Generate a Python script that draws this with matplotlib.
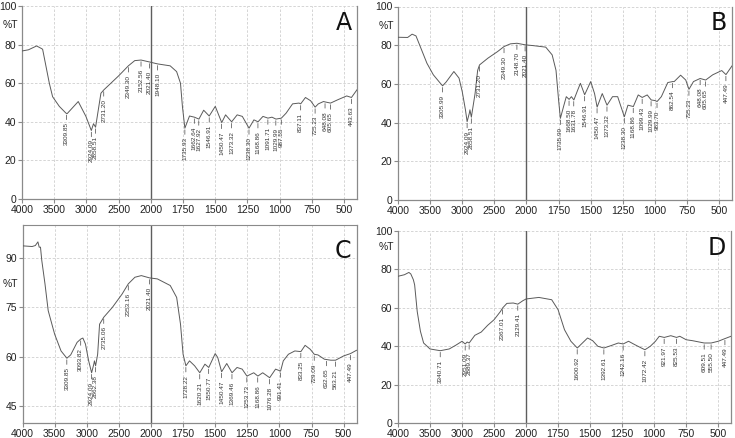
import numpy as np
import matplotlib
matplotlib.use("Agg")
import matplotlib.pyplot as plt

plt.rcParams['font.family'] = ['Liberation Sans', 'DejaVu Sans']

# ---------------- data ----------------
wn_A = [4000, 3900, 3773, 3700, 3680, 3576, 3525, 3421, 3318, 3300, 3127, 3008, 2924, 2890, 2858,
        2775, 2731, 2500, 2349, 2250, 2152, 2021, 1948, 1850, 1800, 1770, 1755, 1736, 1700, 1662,
        1627, 1590, 1547, 1500, 1450, 1420, 1373, 1330, 1290, 1238, 1200, 1168, 1130, 1091, 1060,
        1029, 987, 950, 900, 850, 837, 800, 760, 725, 700, 660, 648, 605, 550, 480, 443, 400]
t_A = [76.7, 77.3, 79.3, 78.0, 77.6, 60.0, 53.0, 48.0, 44.5, 44.2, 50.5, 42.8, 35.5, 39.0, 37.2,
       54.8, 56.5, 63.8, 69.0, 71.7, 72.0, 71.0, 70.0, 69.0, 66.0, 60.0, 48.0, 36.7, 43.0, 42.4,
       41.4, 46.0, 43.0, 48.0, 39.6, 43.6, 40.0, 43.6, 42.8, 36.7, 41.0, 40.0, 42.8, 41.9, 42.4,
       41.4, 41.9, 44.5, 49.3, 49.7, 49.3, 52.6, 50.9, 47.6, 49.3, 50.5, 50.3, 49.7, 51.4, 53.4, 52.6, 56.6]
lab_A = [3309.85, 2924.09, 2858.51, 2731.20, 2349.30, 2152.56, 2021.40, 1948.10, 1735.93, 1662.64,
         1627.92, 1546.91, 1450.47, 1373.32, 1238.30, 1168.86, 1091.71, 1029.99, 987.55, 837.11,
         725.23, 648.08, 605.65, 443.63]

wn_B = [4000, 3850, 3780, 3720, 3650, 3550, 3450, 3350, 3306, 3250, 3130, 3050, 3000, 2950, 2924,
        2890, 2880, 2858, 2800, 2760, 2731, 2600, 2450, 2349, 2250, 2148, 2021, 1950, 1850, 1800,
        1770, 1750, 1736, 1710, 1690, 1668, 1650, 1631, 1600, 1580, 1547, 1500, 1470, 1450, 1410,
        1373, 1330, 1290, 1238, 1210, 1168, 1130, 1099, 1060, 1029, 1000, 983, 950, 900, 862, 850,
        800, 760, 735, 700, 648, 605, 550, 480, 447, 400]
t_B = [84.1, 84.0, 85.7, 84.8, 79.0, 70.7, 64.7, 60.7, 59.0, 61.0, 66.4, 63.0, 56.0, 46.6, 40.5,
       44.8, 46.6, 42.8, 55.0, 67.0, 69.8, 73.3, 76.7, 79.3, 80.7, 81.0, 80.2, 79.8, 79.0, 75.0,
       67.0, 51.7, 42.2, 48.6, 53.4, 52.0, 53.4, 51.7, 57.0, 60.3, 54.4, 61.2, 55.0, 48.0, 55.0,
       49.0, 53.4, 53.4, 43.0, 49.0, 48.3, 54.3, 53.0, 54.3, 51.7, 51.4, 50.9, 53.4, 60.7, 61.2, 61.2,
       64.5, 62.0, 57.2, 61.2, 62.8, 62.0, 64.7, 66.9, 64.8, 69.3]
lab_B = [3305.99, 2924.09, 2858.51, 2731.20, 2349.30, 2148.70, 2021.40, 1735.99, 1668.50, 1631.78,
         1546.91, 1450.47, 1373.32, 1238.30, 1168.86, 1099.43, 1029.99, 983.70, 862.54, 735.23,
         648.08, 605.65, 447.49]

wn_C = [4000, 3850, 3800, 3760, 3740, 3720, 3700, 3650, 3600, 3500, 3400, 3309, 3250, 3150, 3093,
        3060, 3020, 2970, 2924, 2890, 2880, 2862, 2830, 2800, 2735, 2600, 2450, 2353, 2250, 2150,
        2021, 1950, 1850, 1800, 1770, 1750, 1728, 1700, 1660, 1620, 1580, 1550, 1500, 1480, 1450,
        1410, 1369, 1330, 1290, 1253, 1200, 1168, 1130, 1076, 1030, 991, 970, 930, 880, 833, 800,
        760, 729, 700, 650, 600, 563, 500, 447, 400]
t_C = [93.6, 93.4, 93.7, 94.8, 93.2, 93.2, 89.2, 82.1, 74.0, 66.9, 61.8, 59.6, 60.6, 64.4, 65.4,
       65.7, 63.9, 58.8, 55.2, 57.8, 58.8, 57.3, 60.8, 69.9, 72.0, 75.0, 79.0, 82.1, 84.1, 84.6,
       83.9, 83.6, 81.6, 78.0, 69.9, 60.8, 57.3, 58.8, 57.3, 55.2, 57.8, 56.8, 61.0, 59.8, 55.5,
       58.0, 55.2, 56.8, 56.3, 54.2, 55.2, 54.2, 55.2, 53.7, 56.3, 55.7, 58.8, 60.8, 61.8, 61.6, 63.5,
       62.3, 60.8, 60.6, 59.3, 59.0, 59.0, 60.3, 61.0, 62.0]
lab_C = [3309.85, 3093.82, 2924.09, 2862.38, 2735.06, 2353.16, 2021.40, 1728.22, 1620.21, 1550.77,
         1450.47, 1369.46, 1253.73, 1168.86, 1076.28, 991.41, 833.25, 729.09, 632.65, 563.21, 447.49]

wn_D = [4000, 3900, 3830, 3800, 3760, 3740, 3700, 3650, 3600, 3500, 3340, 3200, 3100, 3000, 2951,
        2920, 2889, 2800, 2700, 2600, 2500, 2400, 2367, 2300, 2200, 2129, 2050, 2000, 1900, 1800,
        1750, 1700, 1650, 1600, 1560, 1520, 1480, 1440, 1392, 1330, 1280, 1242, 1200, 1150, 1100,
        1072, 1030, 990, 960, 921, 870, 825, 800, 750, 700, 609, 555, 500, 447, 400]
t_D = [76.3, 77.1, 78.3, 77.5, 74.5, 71.8, 58.0, 47.7, 41.6, 38.5, 37.6, 38.5, 40.4, 42.5, 41.1,
       42.1, 41.6, 45.6, 47.3, 50.8, 53.7, 58.0, 59.8, 62.2, 62.4, 61.8, 63.6, 64.5, 65.3, 64.1,
       58.9, 48.5, 42.5, 39.0, 41.6, 44.2, 42.8, 39.9, 39.0, 40.4, 41.6, 41.1, 42.5, 40.7, 39.0,
       38.1, 39.9, 42.5, 45.1, 44.5, 45.4, 44.5, 45.1, 43.3, 42.8, 41.6, 41.6, 42.5, 43.9, 45.1]
lab_D = [3340.71, 2951.09, 2889.37, 2367.01, 2129.41, 1600.92, 1392.61, 1242.16, 1072.42, 921.97,
         825.53, 609.51, 555.50, 447.49]

xticks = [4000, 3500, 3000, 2500, 2000, 1750, 1500, 1250, 1000, 750, 500]

panels = [
    dict(name='A', wn=wn_A, t=t_A, lab=lab_A, rect=[22/735, 1-199/438, 335/735, 193/438],
         ylim=(0, 100), yticks=[0, 20, 40, 60, 80, 100], top=False, ty=0.9, ly=0.975),
    dict(name='B', wn=wn_B, t=t_B, lab=lab_B, rect=[398/735, 1-200/438, 334/735, 193.5/438],
         ylim=(0, 100), yticks=[0, 20, 40, 60, 80, 100], top=False, ty=0.9, ly=0.975),
    dict(name='C', wn=wn_C, t=t_C, lab=lab_C, rect=[22.5/735, 15/438, 334/735, 198.3/438],
         ylim=(40, 100), yticks=[45, 60, 75, 90], top=True, ty=0.70, ly=0.93),
    dict(name='D', wn=wn_D, t=t_D, lab=lab_D, rect=[398/735, 15/438, 333/735, 192.3/438],
         ylim=(0, 100), yticks=[0, 20, 40, 60, 80, 100], top=False, ty=0.915, ly=0.975),
]


def fwd(w):
    w = np.asarray(w, dtype=float)
    return np.where(w > 2000, 2000 + (w - 2000) / 2.0, w)


def inv(p):
    p = np.asarray(p, dtype=float)
    return np.where(p > 2000, 2000 + (p - 2000) * 2.0, p)


fig = plt.figure(figsize=(7.35, 4.38), dpi=100)
spine_c = '#8a8a8a'
line_c = '#5a5a5a'

for P in panels:
    ax = fig.add_axes(P['rect'])
    ax.set_xscale('function', functions=(fwd, inv))
    ax.set_xlim(4000, 400)
    ax.set_ylim(*P['ylim'])
    ax.set_xticks(xticks)
    ax.set_xticklabels([str(v) for v in xticks])
    ax.set_yticks(P['yticks'])
    ax.minorticks_off()
    ax.grid(True, linestyle=(0, (3, 2)), color='#cfcfcf', linewidth=0.6, zorder=0.5)
    ax.set_axisbelow(True)
    ax.tick_params(axis='both', labelsize=7.5, length=3, width=0.8, color=spine_c,
                   labelcolor='#222222', pad=1)
    for s in ['left', 'bottom', 'right']:
        ax.spines[s].set_color(spine_c)
        ax.spines[s].set_linewidth(0.9)
    ax.spines['top'].set_visible(P['top'])
    ax.spines['top'].set_color(spine_c)
    ax.axvline(2000, color='#5e5e5e', linewidth=1.0, linestyle='-', zorder=2)

    ax.plot(P['wn'], P['t'], color=line_c, linewidth=0.7, zorder=3)

    wn_rev = np.array(P['wn'][::-1], dtype=float)
    t_rev = np.array(P['t'][::-1], dtype=float)
    for w in P['lab']:
        yc = np.interp(w, wn_rev, t_rev)
        ax.annotate(f"{w:.2f}", xy=(w, yc), xytext=(0, -6.5), textcoords='offset points',
                    rotation=90, ha='center', va='top', fontsize=4.6, color='#333333',
                    arrowprops=dict(arrowstyle='-', color='#444444', lw=0.5,
                                    shrinkA=0, shrinkB=1.2),
                    zorder=4)

    ax.text(-0.036, P['ty'], '%T', transform=ax.transAxes,
            fontsize=7.5, color='#222222', ha='center', va='center')
    ax.text(0.985, P['ly'], P['name'], transform=ax.transAxes,
            fontsize=17, ha='right', va='top', color='#111111',
            family=['Liberation Sans Narrow', 'DejaVu Sans'])

fig.savefig('out.png', dpi=100)
